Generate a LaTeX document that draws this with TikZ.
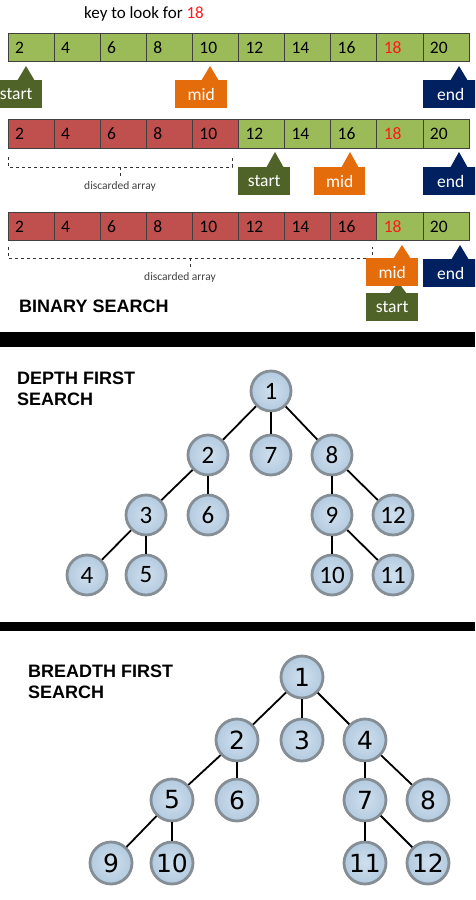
\documentclass[tikz,border=0pt]{standalone}
\usepackage{fontspec}
\setmainfont{Carlito}
\newfontfamily\headfont{Liberation Sans}
\newfontfamily\ballfont{DejaVu Sans}

\definecolor{okgreen}{HTML}{9BBB59}
\definecolor{badred}{HTML}{C0504D}
\definecolor{startgreen}{HTML}{4F6228}
\definecolor{midorange}{HTML}{E46C0A}
\definecolor{endblue}{HTML}{002060}
\definecolor{keyred}{HTML}{FF1A1A}
\definecolor{ballfill}{HTML}{B3CADF}
\definecolor{ballinner}{HTML}{CFE0EE}
\definecolor{ballrim}{HTML}{858D95}

% marker box with a pointer: name, colour, left, width, top, tip x, tip y, text
\newcommand{\flag}[8]{%
  \fill[#2] ({#6-9},{#5+1}) -- (#6,#7) -- ({#6+9},{#5+1}) -- cycle; % pointer
  \node[flagbox, fill=#2, minimum width=#4, anchor=north west] (#1) at (#3,#5) {#8};}

\begin{document}
\begin{tikzpicture}[x=1pt, y=-1pt,
  cell/.style={draw=black!75, line width=0.7pt, minimum height=28.5pt, text width=32.1pt,
    inner xsep=7pt, align=left, font=\fontsize{17.5}{19}\selectfont},
  flagbox/.style={text=white, minimum height=28pt, inner sep=0pt, font=\fontsize{17.5}{19}\selectfont},
  bracket/.style={dashed, line width=0.8pt, black!80},
  note/.style={text=black!75, font=\fontsize{11.5}{13}\selectfont},
  title/.style={anchor=north west, inner sep=0pt, align=left, font=\headfont\bfseries\fontsize{18}{20.5}\selectfont},
  dball/.style={circle, minimum size=40pt, inner sep=0pt, draw=ballrim, line width=2.8pt,
    inner color=ballinner, outer color=ballfill, font=\fontsize{25}{27}\selectfont},
  bball/.style={dball, minimum size=42pt, font=\ballfont\fontsize{25}{27}\selectfont},
  edge/.style={line width=1.8pt}]
  \useasboundingbox (0,0) rectangle (475,900);
  \clip (0,0) rectangle (475,900);

  % Binary search
  \node[font=\fontsize{17}{19}\selectfont] (key) at (144,14) {key to look for \textcolor{keyred}{18}};
  \foreach \r/\y/\k in {1/47.5/0, 2/134/5, 3/226.5/8} {
    \foreach \v [count=\i] in {2,4,...,20} {
      \ifnum\i>\k \def\c{okgreen}\else\def\c{badred}\fi
      \node[cell, fill=\c] (r\r c\i) at ({-15.05+46.1*\i},\y) {\ifnum\v=18 \color{keyred}\fi\v};
    }
  }

  % first pass
  \flag{start1}{startgreen}{-10}{52}{80}{26}{66}{start}
  \flag{mid1}{midorange}{175}{52}{80}{210}{66}{mid}
  \flag{end1}{endblue}{423}{55}{80}{459}{66}{end}

  % second pass
  \draw[bracket] (8,157) -- (8,167) -- (232,167) -- (232,157);
  \draw[bracket] (120,167) -- (120,177);
  \node[note] (gone2) at (120,186) {discarded array};
  \flag{start2}{startgreen}{238}{52}{167}{275}{152}{start}
  \flag{mid2}{midorange}{314}{51}{167}{350}{152}{mid}
  \flag{end2}{endblue}{423}{55}{167}{459}{152}{end}

  % third pass
  \draw[bracket] (8,247) -- (8,258) -- (372,258) -- (372,247);
  \draw[bracket] (190,258) -- (190,268);
  \node[note] (gone3) at (180,277) {discarded array};
  \flag{start3}{startgreen}{366}{52}{293}{398}{282}{start}
  \flag{mid3}{midorange}{366}{52}{258}{402}{245}{mid}
  \flag{end3}{endblue}{423}{55}{259}{460}{245}{end}
  \node[title] (bs) at (19,300) {BINARY SEARCH};

  \fill (0,332) rectangle (475,347); % divider
  \fill (0,622) rectangle (475,631); % divider

  % Depth first search
  \node[title] (dfs) at (17,372) {DEPTH FIRST\\SEARCH};
  \foreach \n/\x/\y in {1/271/391, 2/208/455, 7/271/455, 8/332/455, 3/146/515, 6/208/515,
      9/332/515, 12/393/515, 4/87/575, 5/146/575, 10/332/575, 11/393/575}
    \node[dball] (d\n) at (\x,\y) {\n};
  \foreach \a/\b in {1/2, 1/7, 1/8, 2/3, 2/6, 3/4, 3/5, 8/9, 8/12, 9/10, 9/11}
    \draw[edge] (d\a) -- (d\b);

  % Breadth first search
  \node[title] (bfs) at (28,665) {BREADTH FIRST\\SEARCH};
  \foreach \n/\x/\y in {1/302/677, 2/237/740, 3/302/740, 4/365/740, 5/172/800, 6/237/800,
      7/365/800, 8/428/800, 9/111/863, 10/172/863, 11/365/863, 12/428/863}
    \node[bball] (b\n) at (\x,\y) {\n};
  \foreach \a/\b in {1/2, 1/3, 1/4, 2/5, 2/6, 5/9, 5/10, 4/7, 4/8, 7/11, 7/12}
    \draw[edge] (b\a) -- (b\b);
\end{tikzpicture}
\end{document}
